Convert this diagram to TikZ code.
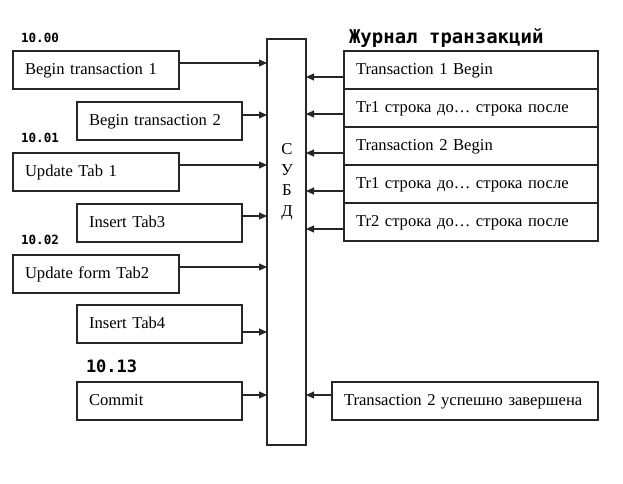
\documentclass[tikz,border=0pt]{standalone}
\usepackage{fontspec}
\setmainfont{Liberation Serif}
\newfontfamily\lblfont{DejaVu Sans Mono}
\usetikzlibrary{arrows.meta}
\begin{document}
\begin{tikzpicture}[x=1pt,y=-1pt,
  every node/.style={inner sep=0pt,outer sep=0pt},
  tbox/.style={draw=black!85,line width=1.2pt,anchor=north west,minimum height=38pt,
    inner xsep=12pt,inner ysep=0pt,text width=#1,align=left,
    text height=12pt,text depth=4pt,
    font=\fontsize{16.6pt}{18pt}\selectfont},
  arr/.style={draw=black!85,line width=1.1pt,-{Triangle[length=8pt,width=7pt]}},
  tlbl/.style={anchor=base west,font=\lblfont\bfseries\fontsize{12.6pt}{14pt}\selectfont},
]
\useasboundingbox (0,0) rectangle (623,483);

% DBMS box
\node[draw=black!85,line width=1.2pt,anchor=north west,minimum width=39pt,minimum height=406pt] (subd) at (267,39) {};
\node[align=center,font=\fontsize{16.6pt}{20.5pt}\selectfont] (subdtxt) at (287,182) {С\\У\\Б\\Д};

% time labels
\node[tlbl] (t1) at (21,42) {10.00};
\node[tlbl] (t2) at (21,142) {10.01};
\node[tlbl] (t3) at (21,244) {10.02};
\node[tlbl,font=\lblfont\bfseries\fontsize{17pt}{19pt}\selectfont] (t4) at (86,372) {10.13};

% left boxes
\node[tbox=142pt] (l1) at (13,51) {Begin transaction 1};
\node[tbox=141pt] (l2) at (77,102) {Begin transaction 2};
\node[tbox=142pt] (l3) at (13,153) {Update Tab 1};
\node[tbox=141pt] (l4) at (77,204) {Insert Tab3};
\node[tbox=142pt] (l5) at (13,255) {Update form Tab2};
\node[tbox=141pt] (l6) at (77,305) {Insert Tab4};
\node[tbox=141pt] (l7) at (77,382) {Commit};

\draw[arr] ([yshift=7pt]l1.east) -- ([yshift=7pt]l1.east -| subd.west);
\draw[arr] ([yshift=6pt]l2.east) -- ([yshift=6pt]l2.east -| subd.west);
\draw[arr] ([yshift=7pt]l3.east) -- ([yshift=7pt]l3.east -| subd.west);
\draw[arr] ([yshift=7pt]l4.east) -- ([yshift=7pt]l4.east -| subd.west);
\draw[arr] ([yshift=7pt]l5.east) -- ([yshift=7pt]l5.east -| subd.west);
\draw[arr] ([yshift=-8pt]l6.east) -- ([yshift=-8pt]l6.east -| subd.west);
\draw[arr] ([yshift=6pt]l7.east) -- ([yshift=6pt]l7.east -| subd.west);

% journal
\node[anchor=base west,font=\lblfont\bfseries\fontsize{19pt}{21pt}\selectfont] (jt) at (349,43) {Журнал транзакций};
\node[tbox=230pt] (r1) at (344,51) {Transaction 1 Begin};
\node[tbox=230pt] (r2) at (344,89) {Tr1 строка до\dots\ строка после};
\node[tbox=230pt] (r3) at (344,127) {Transaction 2 Begin};
\node[tbox=230pt] (r4) at (344,165) {Tr1 строка до\dots\ строка после};
\node[tbox=230pt] (r5) at (344,203) {Tr2 строка до\dots\ строка после};
\node[tbox=242pt] (r6) at (332,382) {Transaction 2 успешно завершена};

\draw[arr] ([yshift=-7pt]r1.west) -- ([yshift=-7pt]r1.west -| subd.east);
\draw[arr] ([yshift=-6pt]r2.west) -- ([yshift=-6pt]r2.west -| subd.east);
\draw[arr] ([yshift=-7pt]r3.west) -- ([yshift=-7pt]r3.west -| subd.east);
\draw[arr] ([yshift=-7pt]r4.west) -- ([yshift=-7pt]r4.west -| subd.east);
\draw[arr] ([yshift=-7pt]r5.west) -- ([yshift=-7pt]r5.west -| subd.east);
\draw[arr] ([yshift=6pt]r6.west) -- ([yshift=6pt]r6.west -| subd.east);
\end{tikzpicture}
\end{document}
